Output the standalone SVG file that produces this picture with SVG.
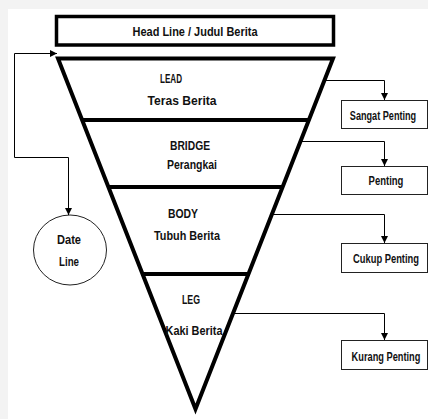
<svg xmlns="http://www.w3.org/2000/svg" width="428" height="419" viewBox="0 0 428 419">
<defs>
<marker id="arr" viewBox="0 0 10 10" refX="10" refY="5" markerWidth="7" markerHeight="7" markerUnits="userSpaceOnUse" orient="auto-start-reverse"><path d="M0,0 L10,5 L0,10 z" fill="#000"/></marker>
<style>
text{font-family:"Liberation Sans Narrow","Liberation Sans",Arial,sans-serif;font-weight:bold;font-size:13px;fill:#111;text-anchor:middle;dominant-baseline:central}
.sm{font-size:12.5px}
.thick{fill:none;stroke:#000;stroke-width:4}
.box{fill:#fff;stroke:#222;stroke-width:1}
.conn{fill:none;stroke:#000;stroke-width:1}
</style>
</defs>
<rect x="0" y="0" width="428" height="419" fill="#f3f3f3"/>
<rect x="8" y="9" width="420" height="410" fill="#fff"/>

<g id="headline">
<rect x="56.5" y="16.5" width="277" height="28.5" fill="#fff" stroke="#000" stroke-width="3.5"/>
<text x="195" y="31" textLength="125" lengthAdjust="spacingAndGlyphs">Head Line / Judul Berita</text>
</g>

<g id="pyramid">
<polygon class="thick" points="58,58.5 333,58.5 195.5,409" stroke-linejoin="miter" stroke-miterlimit="10"/>
<line class="thick" x1="81" y1="120" x2="310" y2="120"/>
<line class="thick" x1="107" y1="187" x2="284" y2="187"/>
<line class="thick" x1="141" y1="274" x2="250" y2="274"/>
</g>

<g id="lead">
<text x="171" y="78" textLength="22" lengthAdjust="spacingAndGlyphs">LEAD</text>
<text x="182" y="100" textLength="69" lengthAdjust="spacingAndGlyphs">Teras Berita</text>
</g>
<g id="bridge">
<text x="190" y="145" textLength="40" lengthAdjust="spacingAndGlyphs">BRIDGE</text>
<text x="192" y="164" textLength="50" lengthAdjust="spacingAndGlyphs">Perangkai</text>
</g>
<g id="body">
<text x="183" y="213" textLength="30" lengthAdjust="spacingAndGlyphs">BODY</text>
<text x="187" y="235" textLength="66" lengthAdjust="spacingAndGlyphs">Tubuh Berita</text>
</g>
<g id="leg">
<text x="191" y="299" textLength="18" lengthAdjust="spacingAndGlyphs">LEG</text>
<text x="194" y="330" textLength="57" lengthAdjust="spacingAndGlyphs">Kaki Berita</text>
</g>

<g id="dateline">
<ellipse cx="70" cy="250" rx="36.5" ry="35" fill="#fff" stroke="#222" stroke-width="1"/>
<text x="69" y="239" textLength="24" lengthAdjust="spacingAndGlyphs">Date</text>
<text x="69" y="261" textLength="20" lengthAdjust="spacingAndGlyphs">Line</text>
</g>

<g id="sangat-penting">
<rect class="box" x="341.5" y="100.5" width="86" height="28"/>
<text class="sm" transform="translate(383,115) scale(0.73,1)">Sangat Penting</text>
</g>
<g id="penting">
<rect class="box" x="341.5" y="166.5" width="86" height="28"/>
<text class="sm" transform="translate(386,180) scale(0.76,1)">Penting</text>
</g>
<g id="cukup-penting">
<rect class="box" x="341.5" y="243.5" width="86" height="29"/>
<text class="sm" transform="translate(386,258) scale(0.75,1)">Cukup Penting</text>
</g>
<g id="kurang-penting">
<rect class="box" x="341.5" y="340.5" width="86" height="29"/>
<text class="sm" transform="translate(386,356) scale(0.74,1)">Kurang Penting</text>
</g>

<g id="connectors">
<path class="conn" d="M57,53.5 H14.5 V157.5 H68.5 V215" marker-start="url(#arr)" marker-end="url(#arr)"/>
<path class="conn" d="M324.5,80.5 H384.5 V100" marker-end="url(#arr)"/>
<path class="conn" d="M300.5,141.5 H384.5 V166" marker-end="url(#arr)"/>
<path class="conn" d="M272.5,214.5 H384.5 V243" marker-end="url(#arr)"/>
<path class="conn" d="M234,313.5 H384.5 V340" marker-end="url(#arr)"/>
</g>
</svg>
